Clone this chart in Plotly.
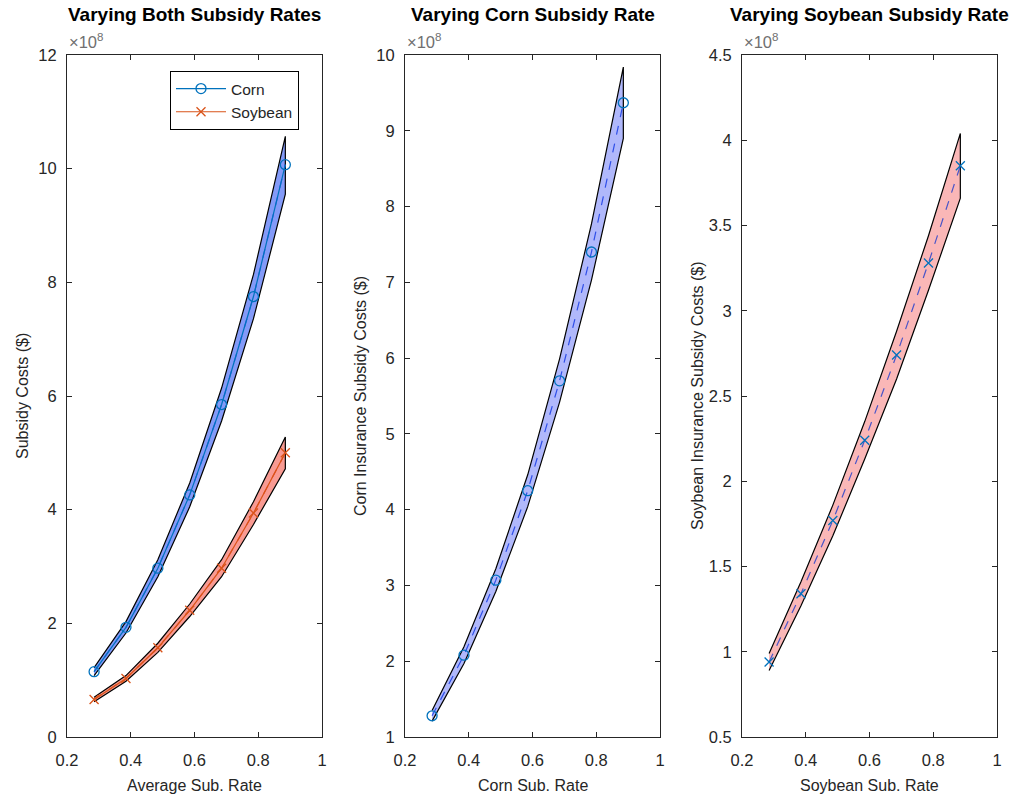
import plotly.graph_objects as go

# ---------------- data (values in units of 1e8 dollars) ----------------
rates = [0.285, 0.385, 0.485, 0.585, 0.685, 0.785, 0.885]

# Panel 1: varying both subsidy rates
both_corn = [1.15, 1.93, 2.97, 4.26, 5.85, 7.75, 10.07]
both_corn_hi = [1.22, 2.03, 3.12, 4.47, 6.14, 8.14, 10.57]
both_corn_lo = [1.08, 1.83, 2.82, 4.05, 5.56, 7.36, 9.55]
both_soy = [0.66, 1.03, 1.57, 2.23, 2.97, 3.94, 5.00]
both_soy_hi = [0.70, 1.08, 1.65, 2.34, 3.12, 4.14, 5.28]
both_soy_lo = [0.62, 0.98, 1.49, 2.12, 2.82, 3.74, 4.72]

# Panel 2: varying corn subsidy rate
corn = [1.28, 2.08, 3.07, 4.25, 5.70, 7.40, 9.37]
corn_hi = [1.35, 2.19, 3.22, 4.46, 5.99, 7.77, 9.84]
corn_lo = [1.21, 1.97, 2.92, 4.04, 5.42, 7.03, 8.90]

# Panel 3: varying soybean subsidy rate
soy = [0.94, 1.34, 1.77, 2.24, 2.74, 3.28, 3.85]
soy_hi = [0.99, 1.41, 1.86, 2.35, 2.88, 3.44, 4.04]
soy_lo = [0.89, 1.27, 1.68, 2.13, 2.60, 3.12, 3.66]

titles = ["Varying Both Subsidy Rates", "Varying Corn Subsidy Rate", "Varying Soybean Subsidy Rate"]
xlabels = ["Average Sub. Rate", "Corn Sub. Rate", "Soybean Sub. Rate"]
ylabels = ["Subsidy Costs ($)", "Corn Insurance Subsidy Costs ($)", "Soybean Insurance Subsidy Costs ($)"]
yranges = [[0, 12], [1, 10], [0.5, 4.5]]
ydticks = [2, 1, 0.5]
xticks = [0.2, 0.4, 0.6, 0.8, 1.0]

# ---------------- styling ----------------
W, H = 1017, 803
FONT = "Liberation Sans, Arial, Helvetica, sans-serif"
AXC = "#262626"
BLUE = "#0072BD"
ORANGE = "#D95319"


def px_x(px):
    return px / W


def px_y(py):
    return 1 - py / H


xdomains = [[px_x(67), px_x(322)], [px_x(405), px_x(660)], [px_x(742), px_x(997)]]
ydomain = [px_y(737), px_y(55)]
ytitle_x = [22, 360, 697]

fig = go.Figure()


def band(xa, ya, x, lo, hi, fill, center, line_color, dash):
    fig.add_trace(go.Scatter(
        x=list(x) + list(x)[::-1], y=list(hi) + list(lo)[::-1],
        fill="toself", fillcolor=fill, mode="lines",
        line=dict(color="black", width=1.2),
        xaxis=xa, yaxis=ya, showlegend=False, hoverinfo="skip"))
    fig.add_trace(go.Scatter(
        x=x, y=center, mode="lines",
        line=dict(color=line_color, width=1.2, dash=dash),
        xaxis=xa, yaxis=ya, showlegend=False, hoverinfo="skip"))


# Panel 1
band("x", "y", rates, both_corn_lo, both_corn_hi, "rgba(90,120,245,0.75)", both_corn, "#2f5be8", "dash")
band("x", "y", rates, both_soy_lo, both_soy_hi, "rgba(245,120,110,0.75)", both_soy, "#e8502a", "dash")
fig.add_trace(go.Scatter(
    x=rates, y=both_corn, mode="lines+markers", name="Corn",
    line=dict(color=BLUE, width=1.2),
    marker=dict(symbol="circle-open", size=10, color=BLUE, line=dict(width=1.3)),
    xaxis="x", yaxis="y"))
fig.add_trace(go.Scatter(
    x=rates, y=both_soy, mode="lines+markers", name="Soybean",
    line=dict(color=ORANGE, width=1.2),
    marker=dict(symbol="x-thin-open", size=9, color=ORANGE, line=dict(width=1.3, color=ORANGE)),
    xaxis="x", yaxis="y"))

# Panel 2
band("x2", "y2", rates, corn_lo, corn_hi, "rgba(150,160,250,0.75)", corn, "#2f4fe8", "dash")
fig.add_trace(go.Scatter(
    x=rates, y=corn, mode="markers", showlegend=False,
    marker=dict(symbol="circle-open", size=10, color=BLUE, line=dict(width=1.3)),
    xaxis="x2", yaxis="y2"))

# Panel 3
band("x3", "y3", rates, soy_lo, soy_hi, "rgba(250,175,175,0.9)", soy, "#4a55c8", "dash")
fig.add_trace(go.Scatter(
    x=rates, y=soy, mode="markers", showlegend=False,
    marker=dict(symbol="x-thin-open", size=9, color=BLUE, line=dict(width=1.3, color=BLUE)),
    xaxis="x3", yaxis="y3"))

axis_common = dict(
    showgrid=False, zeroline=False, showline=True, linecolor=AXC, linewidth=1,
    mirror="ticks", ticks="inside", ticklen=5, tickcolor=AXC, automargin=False,
    tickfont=dict(family=FONT, size=16.5, color=AXC),
)

layout = dict(
    width=W, height=H,
    margin=dict(l=0, r=0, t=0, b=0, autoexpand=False),
    paper_bgcolor="white", plot_bgcolor="white",
    font=dict(family=FONT, color=AXC),
    showlegend=True,
    legend=dict(
        x=px_x(170), y=px_y(71), xanchor="left", yanchor="top",
        bgcolor="white", bordercolor="black", borderwidth=1,
        font=dict(family=FONT, size=15.5, color=AXC),
        tracegroupgap=0, itemwidth=50,
    ),
)

annotations = []
for i in range(3):
    sx = "" if i == 0 else str(i + 1)
    layout["xaxis" + sx] = dict(
        axis_common, domain=xdomains[i], range=[0.2, 1.0], tickvals=xticks,
        anchor="y" + sx, ticklabelstandoff=8,
    )
    layout["yaxis" + sx] = dict(
        axis_common, domain=ydomain, range=yranges[i], dtick=ydticks[i],
        tick0=yranges[i][0], anchor="x" + sx, ticklabelstandoff=6,
    )
    cx = (xdomains[i][0] + xdomains[i][1]) / 2
    # panel title
    annotations.append(dict(
        text="<b>" + titles[i] + "</b>", x=cx, y=px_y(15), xref="paper", yref="paper",
        xanchor="center", yanchor="middle", showarrow=False,
        font=dict(family=FONT, size=19, color="black")))
    # exponent label
    annotations.append(dict(
        text="×10<sup>8</sup>", x=xdomains[i][0], y=ydomain[1] + 2 / H, xref="paper", yref="paper",
        xanchor="left", yanchor="bottom", showarrow=False,
        font=dict(family=FONT, size=16.5, color="#707070")))
    # x axis title
    annotations.append(dict(
        text=xlabels[i], x=cx, y=px_y(785), xref="paper", yref="paper",
        xanchor="center", yanchor="middle", showarrow=False,
        font=dict(family=FONT, size=16, color=AXC)))
    # y axis title
    annotations.append(dict(
        text=ylabels[i], x=px_x(ytitle_x[i]), y=(ydomain[0] + ydomain[1]) / 2,
        xref="paper", yref="paper", textangle=-90,
        xanchor="center", yanchor="middle", showarrow=False,
        font=dict(family=FONT, size=16, color=AXC)))

layout["annotations"] = annotations
fig.update_layout(**layout)
fig.write_html(
    "out.html",
    config={"displayModeBar": False},
    post_script="document.body.style.margin='0';document.body.style.overflow='hidden';",
)
